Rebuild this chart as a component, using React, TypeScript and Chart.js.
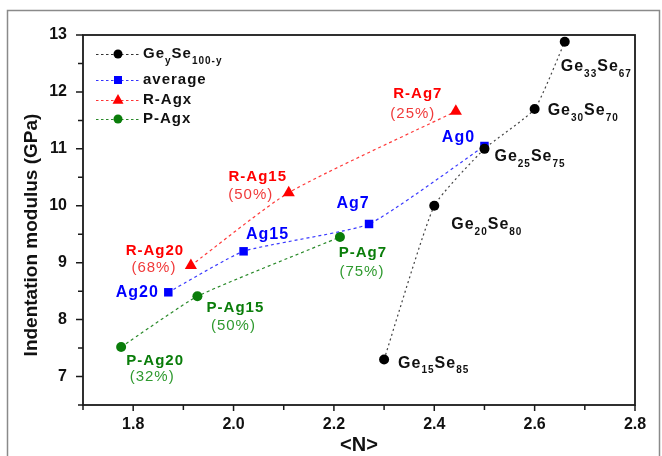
import { useEffect, useRef } from 'react';
import { Chart, registerables } from 'chart.js';

Chart.register(...registerables);

// ---- data ----
const geN = [2.3, 2.4, 2.5, 2.6, 2.66];
const geE = [7.3, 10.0, 11.0, 11.7, 12.88];
const geSubs = [['15', '85'], ['20', '80'], ['25', '75'], ['30', '70'], ['33', '67']];

const avgN = [1.87, 2.02, 2.27, 2.5];
const avgE = [8.48, 9.2, 9.68, 11.05];
const avgLabels = ['Ag20', 'Ag15', 'Ag7', 'Ag0'];

const rN = [1.915, 2.11, 2.443];
const rE = [8.95, 10.23, 11.66];
const rLabels = ['R-Ag20', 'R-Ag15', 'R-Ag7'];
const rPct = ['(68%)', '(50%)', '(25%)'];

const pN = [1.776, 1.928, 2.212];
const pE = [7.52, 8.41, 9.45];
const pLabels = ['P-Ag20', 'P-Ag15', 'P-Ag7'];
const pPct = ['(32%)', '(50%)', '(75%)'];

const legendNames = ['average', 'R-Agx', 'P-Agx'];
const xTitle = '<N>';
const yTitle = 'Indentation modulus (GPa)';
const xRange = [1.7, 2.8];
const yRange = [6.5, 13];

// ---- styles / layout ----
const BLACK = '#000000';
const BLUE = '#0000ff';
const RED = '#ff0000';
const GREEN = '#0a7d0a';
const FONT = '"Liberation Sans", Arial, sans-serif';

const geOff = [[14, 4], [17, 19], [10, 8], [13, 2], [-4, 25]];
const avgOff = [[-31, 0], [24, -17], [-16, -20], [-26, -8]];
const rOff = [[-36, -15], [-31, -16], [-38, -17]];
const rPctOff = [[-37, 2], [-38, 2], [-43, 3]];
const pOff = [[34, 14], [38, 12], [23, 16]];
const pPctOff = [[31, 30], [36, 30], [22, 35]];

function text(ctx: CanvasRenderingContext2D, s: string, x: number, y: number, font: string, color: string, align: CanvasTextAlign = 'left', spacing = '1px') {
  ctx.font = font;
  ctx.fillStyle = color;
  ctx.textAlign = align;
  ctx.textBaseline = 'middle';
  (ctx as any).letterSpacing = spacing;
  ctx.fillText(s, x, y);
  const w = ctx.measureText(s).width;
  return w;
}

function subText(ctx: CanvasRenderingContext2D, parts: [string, boolean][], x: number, y: number, big: number, small: number, color: string) {
  let cx = x;
  for (const [s, sub] of parts) {
    if (sub) {
      cx += text(ctx, s, cx, y + 7, `bold ${small}px ${FONT}`, color, 'left', '1px');
    } else {
      cx += text(ctx, s, cx, y, `bold ${big}px ${FONT}`, color, 'left', '1px');
    }
  }
}

function marker(ctx: CanvasRenderingContext2D, style: string, x: number, y: number, r: number, color: string) {
  ctx.fillStyle = color;
  ctx.beginPath();
  if (style === 'circle') {
    ctx.arc(x, y, r, 0, Math.PI * 2);
  } else if (style === 'rect') {
    ctx.rect(x - r, y - r, 2 * r, 2 * r);
  } else {
    ctx.moveTo(x, y - r * 1.1);
    ctx.lineTo(x + r, y + r * 0.7);
    ctx.lineTo(x - r, y + r * 0.7);
    ctx.closePath();
  }
  ctx.fill();
}

const overlay = {
  id: 'overlay',
  afterDatasetsDraw(chart: any) {
    const ctx: CanvasRenderingContext2D = chart.ctx;
    const xs = chart.scales.x;
    const ys = chart.scales.y;
    const { left, right, top, bottom } = chart.chartArea;
    ctx.save();

    // outer frame
    ctx.strokeStyle = '#8a8a8a';
    ctx.lineWidth = 1.5;
    ctx.strokeRect(7.5, 10.5, 652, 480);

    // plot frame
    ctx.strokeStyle = '#1a1a1a';
    ctx.lineWidth = 1.8;
    ctx.strokeRect(left, top, right - left, bottom - top);

    // ticks
    ctx.lineWidth = 1.5;
    ctx.beginPath();
    xs.ticks.forEach((t: any) => {
      const px = xs.getPixelForValue(t.value);
      const major = Math.round(t.value * 10) % 2 === 0;
      ctx.moveTo(px, bottom);
      ctx.lineTo(px, bottom + (major ? 6 : 5));
    });
    ys.ticks.forEach((t: any) => {
      const py = ys.getPixelForValue(t.value);
      const major = Math.abs(t.value - Math.round(t.value)) < 1e-6;
      ctx.moveTo(left, py);
      ctx.lineTo(left - (major ? 7 : 5), py);
    });
    ctx.stroke();

    // axis titles
    text(ctx, xTitle, (left + right) / 2, 445, `bold 20px ${FONT}`, '#111', 'center', '0px');
    ctx.save();
    ctx.translate(32, 235);
    ctx.rotate(-Math.PI / 2);
    text(ctx, yTitle, 0, 0, `bold 19px ${FONT}`, '#111', 'center', '0px');
    ctx.restore();

    // Ge labels
    geN.forEach((n, i) => {
      const px = xs.getPixelForValue(n) + geOff[i][0];
      const py = ys.getPixelForValue(geE[i]) + geOff[i][1];
      subText(ctx, [['Ge', false], [geSubs[i][0], true], ['Se', false], [geSubs[i][1], true]], px, py, 16, 10, '#111');
    });
    // avg labels
    avgN.forEach((n, i) => {
      const px = xs.getPixelForValue(n) + avgOff[i][0];
      const py = ys.getPixelForValue(avgE[i]) + avgOff[i][1];
      text(ctx, avgLabels[i], px, py, `bold 16px ${FONT}`, BLUE, 'center', '1px');
    });
    rN.forEach((n, i) => {
      const bx = xs.getPixelForValue(n);
      const by = ys.getPixelForValue(rE[i]);
      text(ctx, rLabels[i], bx + rOff[i][0], by + rOff[i][1], `bold 15px ${FONT}`, RED, 'center', '1px');
      text(ctx, rPct[i], bx + rPctOff[i][0], by + rPctOff[i][1], `15px ${FONT}`, '#f03a3a', 'center', '1px');
    });
    pN.forEach((n, i) => {
      const bx = xs.getPixelForValue(n);
      const by = ys.getPixelForValue(pE[i]);
      text(ctx, pLabels[i], bx + pOff[i][0], by + pOff[i][1], `bold 15px ${FONT}`, GREEN, 'center', '1px');
      text(ctx, pPct[i], bx + pPctOff[i][0], by + pPctOff[i][1], `15px ${FONT}`, '#2f9a2f', 'center', '1px');
    });

    // legend
    const rows = [54, 80, 100, 119];
    const lineColors = ['#333', '#3333ff', '#ff3333', '#2a8a2a'];
    const markColors = [BLACK, BLUE, RED, GREEN];
    const styles = ['circle', 'rect', 'triangle', 'circle'];
    const sizes = [4.5, 4, 5.5, 4.5];
    rows.forEach((ry, i) => {
      ctx.strokeStyle = lineColors[i];
      ctx.lineWidth = 1;
      ctx.setLineDash([2.5, 2.5]);
      ctx.beginPath();
      ctx.moveTo(96, ry + 0.5);
      ctx.lineTo(139, ry + 0.5);
      ctx.stroke();
      ctx.setLineDash([]);
      marker(ctx, styles[i], 118, ry, sizes[i], markColors[i]);
      if (i === 0) {
        subText(ctx, [['Ge', false], ['y', true], ['Se', false], ['100-y', true]], 143, ry, 15, 10, '#111');
      } else {
        text(ctx, legendNames[i - 1], 143, ry, `bold 15px ${FONT}`, '#111', 'left', '1px');
      }
    });

    ctx.restore();
  },
};

const pts = (xs: number[], ys: number[]) => xs.map((x, i) => ({ x, y: ys[i] }));

export default function App() {
  const ref = useRef<HTMLCanvasElement | null>(null);
  useEffect(() => {
    if (!ref.current) return;
    const chart = new Chart(ref.current, {
      type: 'scatter',
      data: {
        datasets: [
          {
            label: 'GeySe100-y',
            data: pts(geN, geE),
            showLine: true,
            borderColor: '#444',
            borderWidth: 1.2,
            borderDash: [2, 3],
            tension: 0.15,
            pointStyle: 'circle',
            pointRadius: 5,
            pointBackgroundColor: BLACK,
            pointBorderColor: BLACK,
            pointBorderWidth: 0,
          },
          {
            label: 'average',
            data: pts(avgN, avgE),
            showLine: true,
            borderColor: '#3a3aff',
            borderWidth: 1.2,
            borderDash: [3, 3],
            tension: 0.15,
            pointStyle: 'rect',
            pointRadius: 6,
            pointBackgroundColor: BLUE,
            pointBorderColor: BLUE,
            pointBorderWidth: 0,
          },
          {
            label: 'R-Agx',
            data: pts(rN, rE),
            showLine: true,
            borderColor: '#ff3a3a',
            borderWidth: 1.2,
            borderDash: [3, 3],
            tension: 0.2,
            pointStyle: 'triangle',
            pointRadius: 7,
            pointBackgroundColor: RED,
            pointBorderColor: RED,
            pointBorderWidth: 0,
          },
          {
            label: 'P-Agx',
            data: pts(pN, pE),
            showLine: true,
            borderColor: '#2a8a2a',
            borderWidth: 1.2,
            borderDash: [3, 3],
            tension: 0.15,
            pointStyle: 'circle',
            pointRadius: 5,
            pointBackgroundColor: GREEN,
            pointBorderColor: GREEN,
            pointBorderWidth: 0,
          },
        ],
      },
      options: {
        responsive: false,
        devicePixelRatio: 1,
        animation: false,
        layout: { padding: { left: 0, top: 35, right: 27, bottom: 0 } },
        plugins: { legend: { display: false }, tooltip: { enabled: false } },
        scales: {
          x: {
            type: 'linear',
            min: xRange[0],
            max: xRange[1],
            afterFit: (s: any) => { s.height = 51; },
            grid: { display: true, drawOnChartArea: false, drawTicks: true, tickLength: 7, tickColor: 'rgba(0,0,0,0)' },
            border: { display: false },
            ticks: {
              stepSize: 0.1,
              autoSkip: false,
              maxRotation: 0,
              padding: 3,
              color: '#111',
              font: { family: FONT, size: 16, weight: 'bold' },
              callback: (v: any) => {
                const k = Math.round(Number(v) * 10);
                return k % 2 === 0 ? (k / 10).toFixed(1) : '';
              },
            },
          },
          y: {
            type: 'linear',
            min: yRange[0],
            max: yRange[1],
            afterFit: (s: any) => { s.width = 83; },
            grid: { display: true, drawOnChartArea: false, drawTicks: true, tickLength: 7, tickColor: 'rgba(0,0,0,0)' },
            border: { display: false },
            ticks: {
              stepSize: 0.5,
              autoSkip: false,
              padding: 9,
              color: '#111',
              font: { family: FONT, size: 16, weight: 'bold' },
              callback: (v: any) => {
                const n = Number(v);
                return Math.abs(n - Math.round(n)) < 1e-6 ? String(Math.round(n)) : '';
              },
            },
          },
        },
      },
      plugins: [overlay],
    });
    return () => chart.destroy();
  }, []);
  return (
    <div style={{ position: 'absolute', left: 0, top: 0, width: 662, height: 456, background: '#fff' }}>
      <canvas ref={ref} width={662} height={456} style={{ display: 'block' }} />
    </div>
  );
}
